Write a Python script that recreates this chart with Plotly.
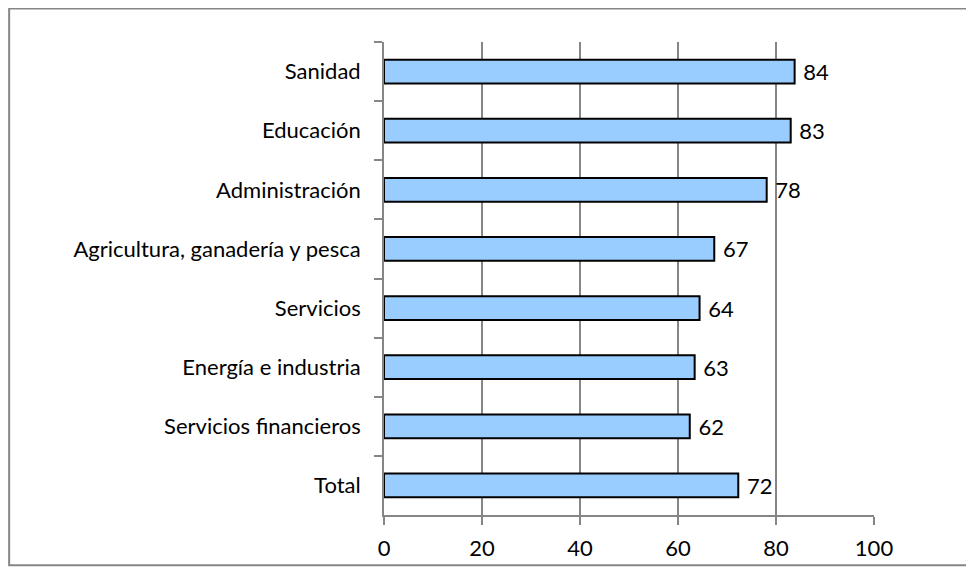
import plotly.graph_objects as go

categories = [
    "Sanidad",
    "Educación",
    "Administración",
    "Agricultura, ganadería y pesca",
    "Servicios",
    "Energía e industria",
    "Servicios financieros",
    "Total",
]
values = [83.8, 83.0, 78.1, 67.4, 64.4, 63.4, 62.4, 72.3]
x_ticks = [0, 20, 40, 60, 80, 100]

FONT = "Lato"
GRAY = "#868686"

fig = go.Figure()
fig.add_trace(
    go.Bar(
        x=values,
        y=categories,
        orientation="h",
        marker=dict(color="#99CCFF", line=dict(color="black", width=2)),
        text=[f" {v:.0f}" for v in values],
        textposition="outside",
        textfont=dict(family=FONT, size=22, color="black"),
        constraintext="none",
        cliponaxis=False,
        width=0.4,
    )
)

# page body adds an 8px offset, so the figure is 8px smaller than the window
fig.update_layout(
    width=966,
    height=560,
    margin=dict(l=376, r=100, t=34, b=53),
    plot_bgcolor="white",
    paper_bgcolor="white",
    showlegend=False,
    font=dict(family=FONT, size=22, color="black"),
    shapes=[
        dict(
            type="rect", xref="paper", yref="paper",
            x0=-0.765, x1=1.25, y0=-0.106, y1=1.071,
            line=dict(color=GRAY, width=2),
        )
    ],
)
fig.update_xaxes(
    range=[0, 100],
    tickvals=x_ticks,
    showgrid=True,
    gridcolor=GRAY,
    gridwidth=1.5,
    showline=True,
    linecolor=GRAY,
    linewidth=2,
    ticks="outside",
    ticklen=8,
    tickcolor=GRAY,
    tickwidth=2,
    ticklabelstandoff=5,
    automargin=False,
    zeroline=False,
)
fig.update_yaxes(
    autorange="reversed",
    showline=True,
    linecolor=GRAY,
    linewidth=2,
    ticks="outside",
    tickson="boundaries",
    ticklen=8,
    tickcolor=GRAY,
    tickwidth=2,
    ticksuffix="   ",
    automargin=False,
    showgrid=False,
)

fig.write_html("out.html")
